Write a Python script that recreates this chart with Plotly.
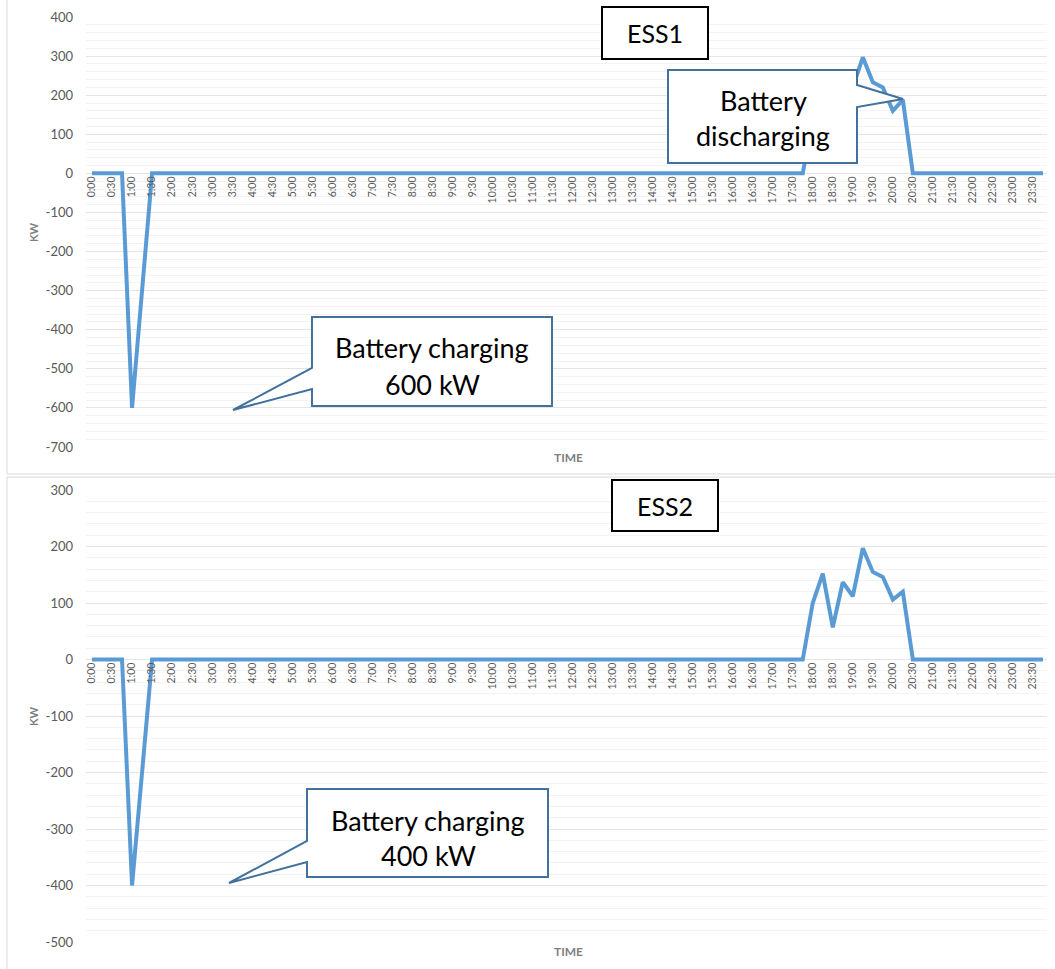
import plotly.graph_objects as go

W, H = 1055, 969

times = [
    "0:00", "0:15", "0:30", "0:45", "1:00", "1:15", "1:30", "1:45",
    "2:00", "2:15", "2:30", "2:45", "3:00", "3:15", "3:30", "3:45",
    "4:00", "4:15", "4:30", "4:45", "5:00", "5:15", "5:30", "5:45",
    "6:00", "6:15", "6:30", "6:45", "7:00", "7:15", "7:30", "7:45",
    "8:00", "8:15", "8:30", "8:45", "9:00", "9:15", "9:30", "9:45",
    "10:00", "10:15", "10:30", "10:45", "11:00", "11:15", "11:30", "11:45",
    "12:00", "12:15", "12:30", "12:45", "13:00", "13:15", "13:30", "13:45",
    "14:00", "14:15", "14:30", "14:45", "15:00", "15:15", "15:30", "15:45",
    "16:00", "16:15", "16:30", "16:45", "17:00", "17:15", "17:30", "17:45",
    "18:00", "18:15", "18:30", "18:45", "19:00", "19:15", "19:30", "19:45",
    "20:00", "20:15", "20:30", "20:45", "21:00", "21:15", "21:30", "21:45",
    "22:00", "22:15", "22:30", "22:45", "23:00", "23:15", "23:30", "23:45",
]

tick_labels = [
    "0:00", "0:30", "1:00", "1:30", "2:00", "2:30", "3:00", "3:30",
    "4:00", "4:30", "5:00", "5:30", "6:00", "6:30", "7:00", "7:30",
    "8:00", "8:30", "9:00", "9:30", "10:00", "10:30", "11:00", "11:30",
    "12:00", "12:30", "13:00", "13:30", "14:00", "14:30", "15:00", "15:30",
    "16:00", "16:30", "17:00", "17:30", "18:00", "18:30", "19:00", "19:30",
    "20:00", "20:30", "21:00", "21:30", "22:00", "22:30", "23:00", "23:30",
]

ess1_kw = [
    0, 0, 0, 0, -600, -300, 0, 0,
    0, 0, 0, 0, 0, 0, 0, 0,
    0, 0, 0, 0, 0, 0, 0, 0,
    0, 0, 0, 0, 0, 0, 0, 0,
    0, 0, 0, 0, 0, 0, 0, 0,
    0, 0, 0, 0, 0, 0, 0, 0,
    0, 0, 0, 0, 0, 0, 0, 0,
    0, 0, 0, 0, 0, 0, 0, 0,
    0, 0, 0, 0, 0, 0, 0, 0,
    140, 220, 100, 200, 220, 297, 233, 220,
    160, 188, 0, 0, 0, 0, 0, 0,
    0, 0, 0, 0, 0, 0, 0, 0,
]

ess2_kw = [
    0, 0, 0, 0, -400, -200, 0, 0,
    0, 0, 0, 0, 0, 0, 0, 0,
    0, 0, 0, 0, 0, 0, 0, 0,
    0, 0, 0, 0, 0, 0, 0, 0,
    0, 0, 0, 0, 0, 0, 0, 0,
    0, 0, 0, 0, 0, 0, 0, 0,
    0, 0, 0, 0, 0, 0, 0, 0,
    0, 0, 0, 0, 0, 0, 0, 0,
    0, 0, 0, 0, 0, 0, 0, 0,
    100, 152, 57, 137, 112, 197, 155, 146,
    106, 120, 0, 0, 0, 0, 0, 0,
    0, 0, 0, 0, 0, 0, 0, 0,
]

y1_ticks = [400, 300, 200, 100, 0, -100, -200, -300, -400, -500, -600, -700]
y1_tick_text = ["400", "300", "200", "100", "0", "-100", "-200", "-300",
                "-400", "-500", "-600", "-700"]
y2_ticks = [300, 200, 100, 0, -100, -200, -300, -400, -500]
y2_tick_text = ["300", "200", "100", "0", "-100", "-200", "-300", "-400", "-500"]

y1_range = [-700, 400]
y2_range = [-500, 300]


def fx(x):
    return x / W


def fy(y):
    return 1 - y / H


FONT = "Lato, Open Sans, sans-serif"
LINE_BLUE = "#5B9BD5"
CALLOUT_BLUE = "#41719C"
GRID = "#E4E4E4"
MINOR = "#F3F3F3"
TXT = "#595959"

X_L, X_R = 86, 1047
TOP_T, TOP_B = 17, 447
BOT_T, BOT_B = 490, 942


def zero_pos(top, bottom, rng):
    zpx = top + (rng[1] / (rng[1] - rng[0])) * (bottom - top)
    return fy(zpx)


fig = go.Figure()

fig.add_trace(go.Scatter(x=times, y=ess1_kw, mode="lines",
                         line=dict(color=LINE_BLUE, width=4),
                         xaxis="x", yaxis="y", showlegend=False))
fig.add_trace(go.Scatter(x=times, y=ess2_kw, mode="lines",
                         line=dict(color=LINE_BLUE, width=4),
                         xaxis="x2", yaxis="y2", showlegend=False))

xrange = [-0.6, 95.4]

xaxis_common = dict(
    type="category", range=xrange, domain=[fx(X_L), fx(X_R)],
    tickmode="array", tickvals=tick_labels, ticktext=tick_labels,
    tickangle=-90, tickfont=dict(family=FONT, size=10.5, color=TXT),
    showgrid=False, zeroline=False, showline=False, ticks="",
    anchor="free", fixedrange=True, automargin=False,
)

yaxis_common = dict(
    showgrid=True, gridcolor=GRID, gridwidth=1,
    zeroline=False, showline=False, ticks="",
    tickfont=dict(family=FONT, size=13, color=TXT),
    ticklabelstandoff=12,
    minor=dict(dtick=20, showgrid=True, gridcolor=MINOR, gridwidth=1),
    fixedrange=True, automargin=False, tickmode="array",
)

fig.update_layout(
    template="none",
    width=W, height=H, autosize=False,
    margin=dict(l=0, r=0, t=0, b=0, pad=0),
    paper_bgcolor="white", plot_bgcolor="white",
    xaxis=dict(**xaxis_common, position=zero_pos(TOP_T, TOP_B, y1_range)),
    xaxis2=dict(**xaxis_common, position=zero_pos(BOT_T, BOT_B, y2_range)),
    yaxis=dict(**yaxis_common, range=y1_range, domain=[fy(TOP_B), fy(TOP_T)], anchor="x",
               tickvals=y1_ticks, ticktext=y1_tick_text),
    yaxis2=dict(**yaxis_common, range=y2_range, domain=[fy(BOT_B), fy(BOT_T)], anchor="x2",
                tickvals=y2_ticks, ticktext=y2_tick_text),
)

shapes = []
annotations = []

for (t, b) in [(-2, 474), (477, 971)]:
    shapes.append(dict(type="rect", xref="paper", yref="paper",
                       x0=fx(7), x1=fx(1058), y0=fy(b), y1=fy(t),
                       line=dict(color="#D9D9D9", width=1), fillcolor="rgba(0,0,0,0)",
                       layer="below"))


def poly(points, color, width):
    d = "M " + " L ".join(f"{fx(x):.5f},{fy(y):.5f}" for x, y in points) + " Z"
    return dict(type="path", xref="paper", yref="paper", path=d,
                fillcolor="white", line=dict(color=color, width=width), layer="above")


def text(x, y, s, size):
    return dict(x=fx(x), y=fy(y), xref="paper", yref="paper", text=s,
                showarrow=False, xanchor="center", yanchor="middle",
                font=dict(family=FONT, size=size, color="black"))


shapes.append(poly([(602, 7), (708, 7), (708, 59), (602, 59)], "black", 2))
annotations.append(text(655, 33, "ESS1", 25))
shapes.append(poly([(612, 480), (718, 480), (718, 531), (612, 531)], "black", 2))
annotations.append(text(665, 506, "ESS2", 25))

shapes.append(poly([(668, 70), (857, 70), (857, 85), (903, 99), (857, 107),
                    (857, 163), (668, 163)], CALLOUT_BLUE, 2))
annotations.append(text(763, 101, "Battery", 27))
annotations.append(text(763, 135, "discharging", 27))

shapes.append(poly([(312, 317), (552, 317), (552, 406), (312, 406), (312, 389),
                    (233, 410), (312, 368)], CALLOUT_BLUE, 2))
annotations.append(text(432, 348, "Battery charging", 27))
annotations.append(text(432, 384, "600 kW", 27))

shapes.append(poly([(307, 789), (548, 789), (548, 877), (307, 877), (307, 862),
                    (229, 883), (307, 841)], CALLOUT_BLUE, 2))
annotations.append(text(428, 820, "Battery charging", 27))
annotations.append(text(428, 855, "400 kW", 27))

for yc in [232, 716]:
    annotations.append(dict(x=fx(33), y=fy(yc), xref="paper", yref="paper", text="KW",
                            showarrow=False, textangle=-90, xanchor="center", yanchor="middle",
                            font=dict(family=FONT, size=11, color="#7F7F7F", weight="bold")))
for yc in [457, 951]:
    annotations.append(dict(x=fx(568), y=fy(yc), xref="paper", yref="paper", text="TIME",
                            showarrow=False, xanchor="center", yanchor="middle",
                            font=dict(family=FONT, size=12, color="#7F7F7F", weight="bold")))

fig.update_layout(shapes=shapes, annotations=annotations)

fig.write_html("out.html", config={"displayModeBar": False},
               post_script="document.documentElement.style.margin='0';"
                           "document.documentElement.style.padding='0';"
                           "document.body.style.margin='0';document.body.style.padding='0';")
